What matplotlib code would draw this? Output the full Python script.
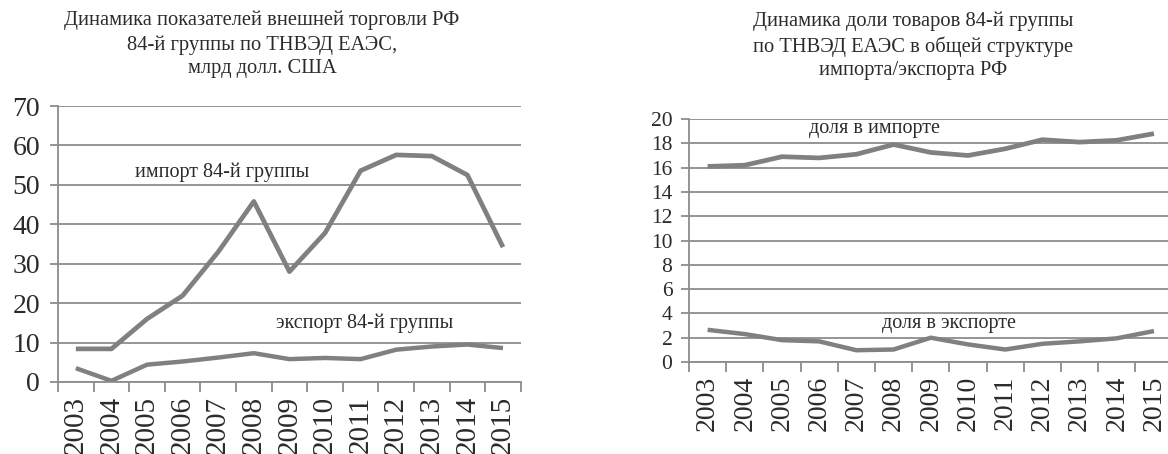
import numpy as np
import matplotlib
matplotlib.use("Agg")
import matplotlib.pyplot as plt

plt.rcParams['font.family'] = ['Liberation Serif', 'DejaVu Serif']

years = [str(y) for y in range(2003, 2016)]

# млрд долл. США
import_84 = [8.4, 8.4, 16.0, 21.9, 33.0, 45.8, 28.0, 37.8, 53.6, 57.6, 57.3, 52.5, 34.2]
export_84 = [3.5, 0.3, 4.4, 5.2, 6.2, 7.3, 5.8, 6.1, 5.8, 8.2, 9.0, 9.5, 8.6]

# доля, %
share_import = [16.1, 16.2, 16.9, 16.8, 17.1, 17.9, 17.25, 17.0, 17.55, 18.3, 18.1, 18.25, 18.8]
share_export = [2.65, 2.3, 1.8, 1.7, 0.97, 1.03, 2.0, 1.45, 1.03, 1.5, 1.7, 1.95, 2.55]

line_col = '#808080'
grid_col = '#8c8c8c'
text_col = '#2b2b2b'

fig = plt.figure(figsize=(11.68, 4.54), dpi=100)


def style_axes(ax, ymax, ystep, ysize, xsize, ypad):
    n = len(years)
    ax.set_xlim(-0.5, n - 0.5)
    ax.set_ylim(0, ymax)
    ax.set_yticks(np.arange(0, ymax + ystep, ystep))
    ax.set_xticks(np.arange(n))
    ax.set_xticklabels(years, rotation=90)
    ax.set_xticks(np.arange(-0.5, n), minor=True)
    ax.tick_params(axis='x', which='major', length=0, labelsize=xsize, pad=10, labelcolor=text_col)
    ax.tick_params(axis='x', which='minor', length=7, width=1.3, color=grid_col)
    ax.tick_params(axis='y', length=6, width=1.3, color=grid_col, labelsize=ysize, pad=ypad,
                   labelcolor=text_col)
    ax.yaxis.grid(True, color=grid_col, linewidth=1.3)
    ax.set_axisbelow(True)
    for s in ['top', 'right']:
        ax.spines[s].set_visible(False)
    for s in ['left', 'bottom']:
        ax.spines[s].set_color(grid_col)
        ax.spines[s].set_linewidth(1.3)


# left chart
ax1 = fig.add_axes([0.0497, 0.1586, 0.3962, 0.6079])
x = np.arange(len(years))
ax1.plot(x, import_84, color=line_col, lw=3.4, solid_capstyle='butt')
ax1.plot(x, export_84, color=line_col, lw=3.2, solid_capstyle='butt')
style_axes(ax1, 70, 10, 20, 21, 7)
ax1.text(4.12, 53.3, 'импорт 84-й группы', ha='center', va='center', fontsize=14.5, color=text_col)
ax1.text(8.12, 15.0, 'экспорт 84-й группы', ha='center', va='center', fontsize=14.5, color=text_col)

fig.text(0.2243, 0.902, 'Динамика показателей внешней торговли РФ\n84-й группы по ТНВЭД ЕАЭС,\nмлрд долл. США',
         ha='center', va='center', fontsize=14.8, color=text_col, linespacing=1.33)

# right chart
ax2 = fig.add_axes([0.5899, 0.2026, 0.4140, 0.5352])
ax2.plot(x, share_import, color=line_col, lw=3.4, solid_capstyle='butt')
ax2.plot(x, share_export, color=line_col, lw=3.2, solid_capstyle='butt')
style_axes(ax2, 20, 2, 15.5, 20, 6)
ax2.text(4.5, 19.26, 'доля в импорте', ha='center', va='center', fontsize=14.5, color=text_col)
ax2.text(6.48, 3.2, 'доля в экспорте', ha='center', va='center', fontsize=14.5, color=text_col)

fig.text(0.7817, 0.8987, 'Динамика доли товаров 84-й группы\nпо ТНВЭД ЕАЭС в общей структуре\nимпорта/экспорта РФ',
         ha='center', va='center', fontsize=14.8, color=text_col, linespacing=1.33)

fig.savefig('out.png', dpi=100)
